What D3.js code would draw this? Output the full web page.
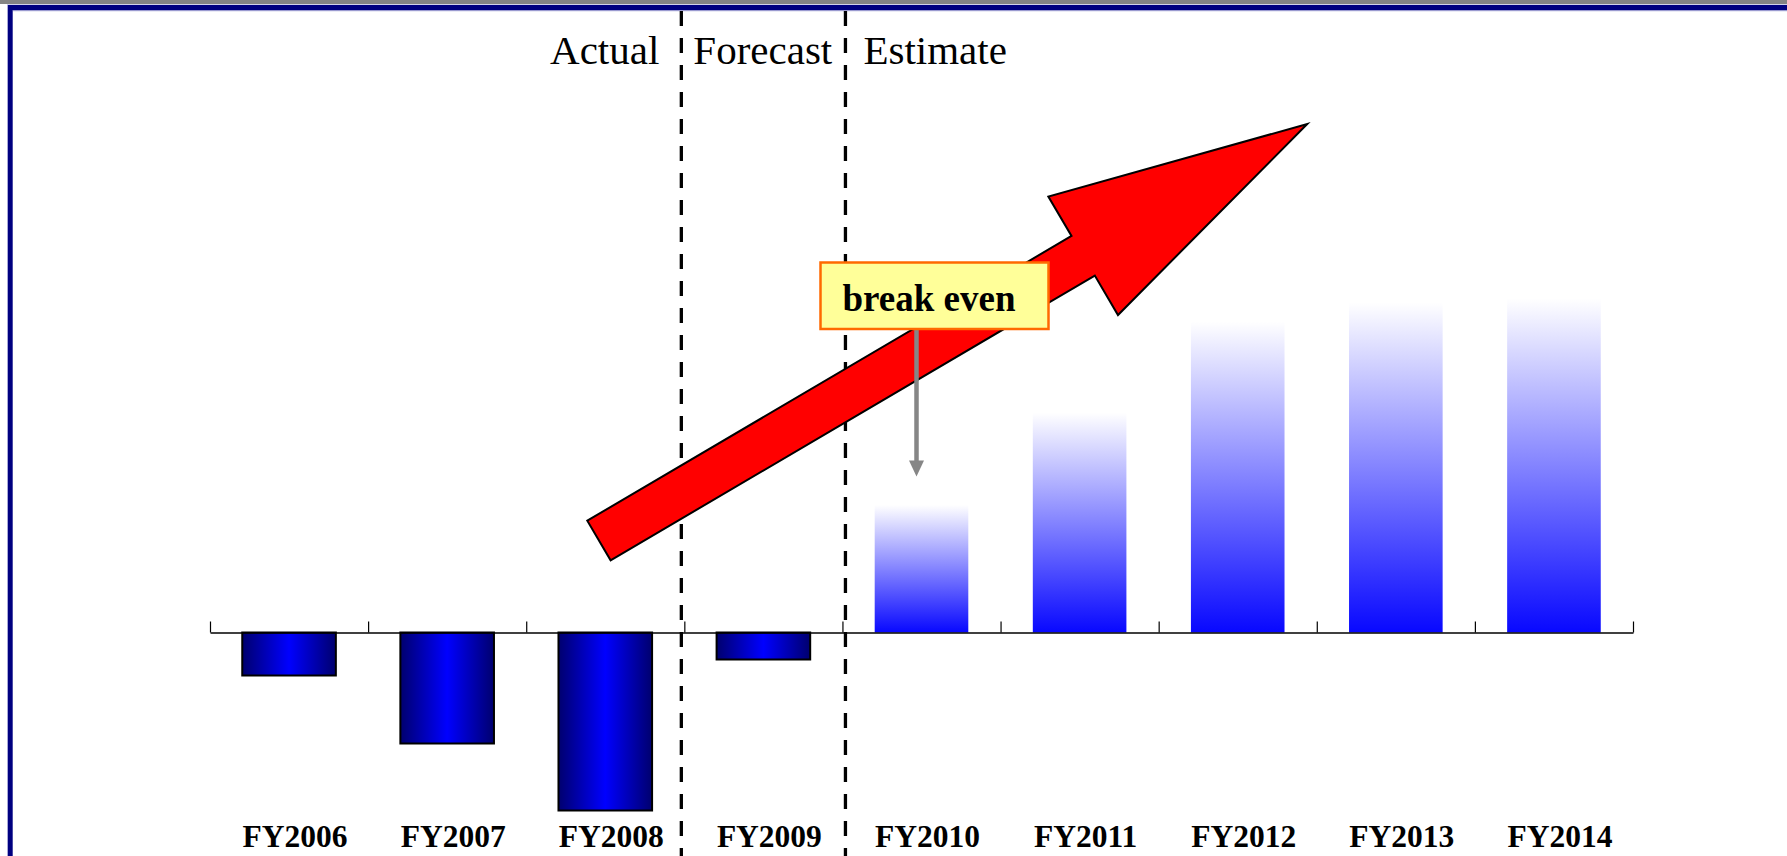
<!DOCTYPE html>
<html>
<head>
<meta charset="utf-8">
<script src="https://cdn.jsdelivr.net/npm/d3@7"></script>
<style>
  html, body { margin: 0; padding: 0; background: #ffffff; }
  svg { display: block; }
</style>
</head>
<body>
<svg id="chart" width="1787" height="856"></svg>
<script>
// Operating result by fiscal year (arbitrary units, negative = loss)
const categories = ["FY2006", "FY2007", "FY2008", "FY2009", "FY2010", "FY2011", "FY2012", "FY2013", "FY2014"];
const values = [-4.3, -11.1, -17.8, -2.7, 12.75, 22.0, 31.1, 33.0, 33.4];

// Phase labels and the category index where each later phase begins
const phaseLabels = ["Actual", "Forecast", "Estimate"];
const phaseStarts = [3, 4];

// Callout text and the year it points at
const calloutText = "break even";
const calloutYear = "FY2010";

const W = 1787, H = 856;
const svg = d3.select("#chart");
const defs = svg.append("defs");

// Scales
const x0 = 210, x1 = 1633;
const x = d3.scaleBand().domain(categories).range([x0, x1])
  .paddingInner(0.408).paddingOuter(0.204);
const slot = d3.scaleLinear().domain([0, categories.length]).range([x0, x1]);
const y = d3.scaleLinear().domain([-20, 35]).range([832.5, 282.5]);

// Page frame
svg.append("rect").attr("x", 0).attr("y", 0).attr("width", W).attr("height", 4).attr("fill", "#858585");
svg.append("rect").attr("x", 7).attr("y", 4.5).attr("width", W - 7).attr("height", 1).attr("fill", "#a8a8d8");
svg.append("rect").attr("x", 8).attr("y", 5).attr("width", W - 8).attr("height", 5).attr("fill", "#000080");
svg.append("rect").attr("x", 12.7).attr("y", 10).attr("width", W - 12.7).attr("height", 1.2).attr("fill", "#9a9ad0");
svg.append("rect").attr("x", 7).attr("y", 5).attr("width", 1).attr("height", H).attr("fill", "#a8a8d8");
svg.append("rect").attr("x", 8).attr("y", 5).attr("width", 4.7).attr("height", H).attr("fill", "#000080");

// Gradients
const neg = defs.append("linearGradient").attr("id", "negGrad")
  .attr("x1", 0).attr("y1", 0).attr("x2", 1).attr("y2", 0);
neg.append("stop").attr("offset", "0%").attr("stop-color", "#00006e");
neg.append("stop").attr("offset", "50%").attr("stop-color", "#0000ff");
neg.append("stop").attr("offset", "100%").attr("stop-color", "#00006e");

const pos = defs.append("linearGradient").attr("id", "posGrad")
  .attr("x1", 0).attr("y1", 1).attr("x2", 0).attr("y2", 0);
pos.append("stop").attr("offset", "0%").attr("stop-color", "#0808ff").attr("stop-opacity", 1);
pos.append("stop").attr("offset", "100%").attr("stop-color", "#0808ff").attr("stop-opacity", 0);

const data = categories.map((c, i) => ({ cat: c, v: values[i] }));

// Phase separators
const sepX = [slot(phaseStarts[0]) - 3, slot(phaseStarts[1]) + 3];
svg.append("g").selectAll("line").data(sepX).join("line")
  .attr("x1", d => d).attr("x2", d => d)
  .attr("y1", 11).attr("y2", H)
  .attr("stroke", "#000").attr("stroke-width", 3.3)
  .attr("stroke-dasharray", "15,12");

// Phase labels
const phaseFont = "'Liberation Serif', 'Times New Roman', serif";
const phaseG = svg.append("g").attr("font-family", phaseFont).attr("font-size", 41).attr("fill", "#000");
phaseG.append("text").attr("x", sepX[0] - 22).attr("y", 64).attr("text-anchor", "end").text(phaseLabels[0]);
phaseG.append("text").attr("x", sepX[0] + 12).attr("y", 64).attr("text-anchor", "start").text(phaseLabels[1]);
phaseG.append("text").attr("x", sepX[1] + 18).attr("y", 64).attr("text-anchor", "start").text(phaseLabels[2]);

// Bars
svg.append("g").selectAll("rect").data(data).join("rect")
  .attr("x", d => x(d.cat))
  .attr("width", x.bandwidth())
  .attr("y", d => y(Math.max(0, d.v)))
  .attr("height", d => Math.abs(y(d.v) - y(0)))
  .attr("fill", d => d.v < 0 ? "url(#negGrad)" : "url(#posGrad)")
  .attr("stroke", d => d.v < 0 ? "#000" : "none")
  .attr("stroke-width", 2);

// Category axis with upward ticks at slot boundaries
const axis = d3.axisTop(slot).tickValues(d3.range(categories.length + 1))
  .tickSize(11).tickSizeOuter(0).tickFormat("");
const axisG = svg.append("g").attr("transform", `translate(0,${y(0)})`).call(axis);
axisG.select(".domain").attr("stroke", "#000").attr("stroke-width", 1.5);
axisG.selectAll(".tick line").attr("stroke", "#000").attr("stroke-width", 1.2);

// Category labels
svg.append("g").selectAll("text").data(data).join("text")
  .attr("x", d => x(d.cat) + x.bandwidth() / 2 + 6)
  .attr("y", 847)
  .attr("text-anchor", "middle")
  .attr("font-family", phaseFont)
  .attr("font-weight", "bold")
  .attr("font-size", 31.5)
  .attr("fill", "#000")
  .text(d => d.cat);

// Growth arrow (placed in slot / value coordinates)
const tail = [slot(2.46), y(9.2)];
const tip = [slot(6.94), y(50.85)];
const shaftHalf = 23, headHalf = 68.7, headLen = 260;
(function drawArrow() {
  const dx = tip[0] - tail[0], dy = tip[1] - tail[1];
  const L = Math.hypot(dx, dy);
  const u = [dx / L, dy / L];
  const n = [-u[1], u[0]];
  const base = [tip[0] - u[0] * headLen, tip[1] - u[1] * headLen];
  const p = (o, s) => [o[0] + n[0] * s, o[1] + n[1] * s];
  const pts = [
    p(tail, -shaftHalf), p(base, -shaftHalf), p(base, -headHalf), tip,
    p(base, headHalf), p(base, shaftHalf), p(tail, shaftHalf)
  ];
  svg.append("polygon")
    .attr("points", pts.map(q => q.join(",")).join(" "))
    .attr("fill", "#ff0000")
    .attr("stroke", "#000")
    .attr("stroke-width", 2)
    .attr("stroke-linejoin", "miter");
})();

// Break-even callout
const cx = x(calloutYear) + x.bandwidth() / 2;
const boxX = cx - 101, boxY = 262.5, boxW = 228, boxH = 66.5;
const pointerX = cx - 5;
const pointerTip = y(15.6);
svg.append("line")
  .attr("x1", pointerX).attr("x2", pointerX)
  .attr("y1", boxY + boxH).attr("y2", pointerTip - 14)
  .attr("stroke", "#868686").attr("stroke-width", 4.5);
svg.append("path")
  .attr("d", `M${pointerX - 7.5},${pointerTip - 16} L${pointerX + 7.5},${pointerTip - 16} L${pointerX},${pointerTip} Z`)
  .attr("fill", "#868686");
svg.append("rect")
  .attr("x", boxX).attr("y", boxY).attr("width", boxW).attr("height", boxH)
  .attr("fill", "#ffff99").attr("stroke", "#ff6a00").attr("stroke-width", 2.5);
svg.append("text")
  .attr("x", boxX + 22).attr("y", boxY + 48)
  .attr("font-family", phaseFont).attr("font-weight", "bold").attr("font-size", 37)
  .attr("fill", "#000")
  .text(calloutText);
</script>
</body>
</html>
